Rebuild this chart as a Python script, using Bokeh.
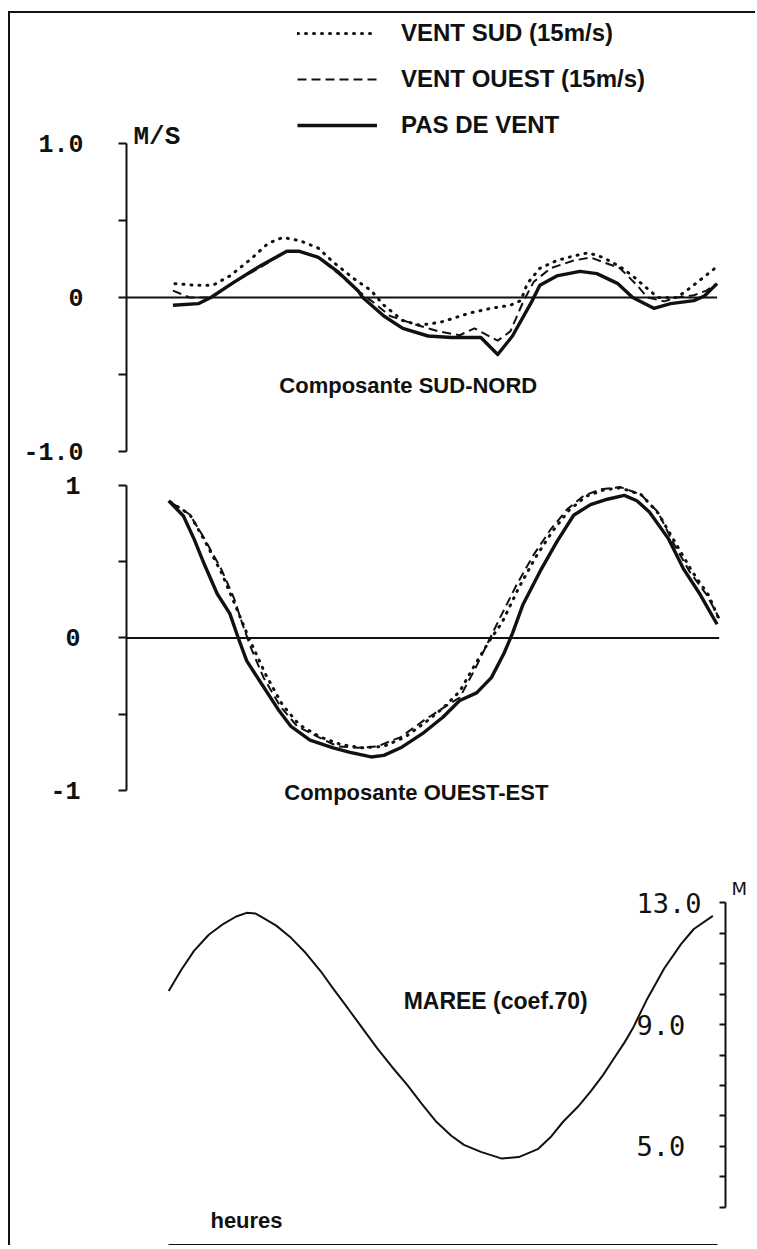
from bokeh.plotting import figure
from bokeh.layouts import column
from bokeh.models import Range1d, LinearAxis, FixedTicker, Legend, LegendItem, Label
from bokeh.embed import file_html
from bokeh.resources import INLINE

# ---------------- data (hours, values) ----------------
# Composante SUD-NORD (m/s)
sn_calm_h = [0.1, 0.7, 1.0, 1.55, 2.2, 2.8, 3.1, 3.55, 4.0, 4.5, 4.6, 5.1, 5.55, 6.15, 6.7,
             7.0, 7.4, 7.8, 8.15, 8.6, 8.8, 9.2, 9.75, 10.15, 10.65, 11.0, 11.5, 11.9, 12.45, 12.7, 13.0]
sn_calm_v = [-0.05, -0.04, 0.0, 0.10, 0.21, 0.30, 0.30, 0.26, 0.17, 0.04, 0.0, -0.12, -0.20, -0.25, -0.26,
             -0.26, -0.26, -0.37, -0.25, -0.03, 0.08, 0.14, 0.17, 0.155, 0.09, 0.0, -0.07, -0.04, -0.02, 0.01, 0.09]

sn_sud_h = [0.15, 0.6, 1.05, 1.45, 1.95, 2.35, 2.7, 3.1, 3.55, 3.9, 4.4, 4.8, 5.1, 5.55, 5.95, 6.45,
            7.15, 7.65, 8.1, 8.35, 8.5, 8.8, 9.2, 9.6, 9.95, 10.3, 10.7, 11.0, 11.25, 11.6, 12.05, 12.35, 12.7, 12.95]
sn_sud_v = [0.09, 0.08, 0.08, 0.14, 0.25, 0.35, 0.39, 0.37, 0.32, 0.23, 0.12, 0.045, -0.05, -0.15, -0.18, -0.16,
            -0.10, -0.07, -0.05, -0.02, 0.09, 0.19, 0.24, 0.27, 0.29, 0.26, 0.20, 0.14, 0.08, 0.0, 0.0, 0.06, 0.135, 0.19]

sn_ouest_h = [0.1, 0.5, 1.0, 1.55, 2.2, 2.8, 3.1, 3.55, 4.0, 4.5, 4.8, 5.25, 5.9, 6.4, 6.9, 7.25, 7.45,
              7.8, 8.1, 8.4, 8.65, 9.05, 9.6, 10.0, 10.3, 10.7, 11.1, 11.35, 11.75, 12.05, 12.45, 12.75, 12.95]
sn_ouest_v = [0.045, 0.0, 0.0, 0.10, 0.20, 0.30, 0.30, 0.26, 0.16, 0.04, -0.02, -0.12, -0.18, -0.22, -0.245, -0.20, -0.23,
              -0.28, -0.22, -0.03, 0.10, 0.19, 0.24, 0.26, 0.23, 0.19, 0.08, 0.0, -0.025, 0.0, 0.015, 0.045, 0.085]

# Composante OUEST-EST (m/s)
oe_calm_h = [0.0, 0.35, 0.6, 0.85, 1.15, 1.45, 1.65, 1.85, 2.2, 2.6, 2.9, 3.35, 3.9, 4.3, 4.8, 5.1, 5.5,
             6.05, 6.5, 6.9, 7.3, 7.65, 7.95, 8.15, 8.4, 8.8, 9.2, 9.6, 10.0, 10.4, 10.8, 11.1, 11.4,
             11.85, 12.2, 12.6, 13.0]
oe_calm_v = [0.90, 0.80, 0.65, 0.48, 0.29, 0.16, 0.0, -0.15, -0.30, -0.47, -0.58, -0.67, -0.72, -0.75, -0.78, -0.77, -0.72,
             -0.62, -0.52, -0.41, -0.36, -0.26, -0.10, 0.03, 0.22, 0.435, 0.63, 0.805, 0.875, 0.91, 0.935, 0.90, 0.825,
             0.65, 0.455, 0.285, 0.09]

oe_ouest_h = [0.05, 0.5, 0.85, 1.25, 1.55, 1.75, 1.95, 2.25, 2.65, 3.05, 3.55, 4.0, 4.5, 4.95, 5.5, 6.05, 6.5,
              6.9, 7.25, 7.55, 7.85, 8.25, 8.65, 9.05, 9.45, 9.85, 10.25, 10.7, 11.2, 11.6, 11.95, 12.35, 12.75, 13.05]
oe_ouest_v = [0.89, 0.81, 0.65, 0.45, 0.26, 0.09, -0.065, -0.26, -0.45, -0.58, -0.65, -0.71, -0.72, -0.71, -0.65, -0.54, -0.46,
              -0.39, -0.21, -0.04, 0.13, 0.35, 0.545, 0.71, 0.845, 0.935, 0.975, 0.99, 0.94, 0.825, 0.63, 0.435, 0.285, 0.13]

oe_sud_h = [0.05, 0.5, 0.85, 1.25, 1.6, 1.9, 2.3, 2.7, 3.1, 3.6, 4.1, 4.6, 5.1, 5.6, 6.1, 6.5,
            6.9, 7.25, 7.6, 7.9, 8.3, 8.7, 9.1, 9.5, 9.9, 10.3, 10.7, 11.2, 11.6, 12.0, 12.4, 12.8, 13.05]
oe_sud_v = [0.89, 0.81, 0.64, 0.43, 0.20, 0.0, -0.24, -0.44, -0.57, -0.65, -0.70, -0.72, -0.71, -0.65, -0.55, -0.46,
            -0.35, -0.18, -0.02, 0.10, 0.33, 0.53, 0.70, 0.84, 0.93, 0.97, 0.985, 0.94, 0.82, 0.63, 0.44, 0.28, 0.12]

# MAREE (coef.70), metres
tide_h = [0.0, 0.3, 0.6, 0.95, 1.3, 1.6, 1.85, 2.05, 2.25, 2.55, 2.9, 3.25, 3.6, 3.9, 4.25, 4.6, 4.95, 5.3,
          5.65, 6.0, 6.35, 6.7, 7.0, 7.4, 7.9, 8.3, 8.75, 9.05, 9.35, 9.7, 10.0, 10.3, 10.55, 10.8, 11.0,
          11.35, 11.75, 12.15, 12.45, 12.9]
tide_m = [10.1, 10.8, 11.42, 11.95, 12.31, 12.55, 12.67, 12.65, 12.5, 12.25, 11.85, 11.35, 10.76, 10.18, 9.53,
          8.87, 8.21, 7.6, 7.03, 6.4, 5.8, 5.35, 5.05, 4.82, 4.6, 4.65, 4.91, 5.3, 5.81, 6.3, 6.8, 7.35, 7.88,
          8.4, 8.87, 9.86, 10.85, 11.65, 12.14, 12.57]

legend_labels = ["VENT SUD (15m/s)", "VENT OUEST (15m/s)", "PAS DE VENT"]
sn_ticks = [-1, 0, 1]
sn_minor = [-0.5, 0.5]
sn_tick_labels = {1: "1.0", 0: "0", -1: "-1.0"}
oe_tick_labels = {1: "1", 0: "0", -1: "-1"}
tide_ticks = [5, 9, 13]
tide_minor = [3, 4, 6, 7, 8, 10, 11, 12]
tide_tick_labels = {13: "13.0", 9: "9.0", 5: "5.0"}
tide_unit_pos = [13.46]
tide_unit = {13.46: "M"}

# ---------------- layout helpers ----------------
X_START, X_END = -1.0, 13.2
W = 745
ML, MR = 116, 30
INK = "#111111"
SANS = "Liberation Sans"


def base(h, y0, y1):
    p = figure(width=W, height=h, x_range=Range1d(X_START, X_END), y_range=Range1d(y0, y1),
               output_backend="svg", toolbar_location=None, x_axis_location=None, y_axis_location=None,
               min_border_left=ML, min_border_right=MR, min_border_top=0, min_border_bottom=0)
    p.grid.visible = False
    p.outline_line_color = None
    p.background_fill_color = "white"
    p.border_fill_color = "white"
    return p


def left_axis(labels, standoff):
    return LinearAxis(bounds=(-1, 1), ticker=FixedTicker(ticks=sn_ticks, minor_ticks=sn_minor),
                      major_label_overrides=labels,
                      axis_line_width=2, axis_line_color=INK,
                      major_tick_line_width=2, minor_tick_line_width=2,
                      major_tick_line_color=INK, minor_tick_line_color=INK,
                      major_tick_out=8, major_tick_in=0, minor_tick_out=8, minor_tick_in=0,
                      major_label_standoff=standoff, major_label_text_font="Liberation Mono",
                      major_label_text_font_style="bold", major_label_text_font_size="25px",
                      major_label_text_color=INK)


def label(p, x, y, text, size="22px", align="left", font=SANS, style="bold"):
    p.add_layout(Label(x=x, y=y, text=text, text_align=align, text_baseline="middle",
                       text_font=font, text_font_style=style, text_font_size=size, text_color=INK))


DOT = dict(line_dash="1 7", line_width=3, line_cap="round", line_color=INK)
DASH = dict(line_dash="9 5", line_width=2, line_color=INK)
SOLID = dict(line_width=3.4, line_color=INK, line_join="round")

# ---------------- panel 1 : SUD-NORD ----------------
p1 = base(455, -1.1104, 1.8442)
p1.add_layout(left_axis(sn_tick_labels, 35), "left")
p1.line([X_START, sn_calm_h[-1]], [0, 0], line_width=2, line_color=INK)
r_s = p1.line(sn_sud_h, sn_sud_v, **DOT)
r_o = p1.line(sn_ouest_h, sn_ouest_v, **DASH)
r_c = p1.line(sn_calm_h, sn_calm_v, **SOLID)
leg = Legend(items=[LegendItem(label=legend_labels[0], renderers=[r_s]),
                    LegendItem(label=legend_labels[1], renderers=[r_o]),
                    LegendItem(label=legend_labels[2], renderers=[r_c])],
             location=(171, 329), glyph_width=80, glyph_height=28, label_height=28, spacing=18,
             label_standoff=24, padding=0, margin=0, border_line_color=None, background_fill_alpha=0,
             label_text_font=SANS, label_text_font_style="bold", label_text_font_size="24px",
             label_text_color=INK)
p1.add_layout(leg)
label(p1, -0.835, 1.04, "M/S", size="26px", font="Liberation Mono")
label(p1, 5.68, -0.57, "Composante SUD-NORD", align="center")

# ---------------- panel 2 : OUEST-EST ----------------
p2 = base(372, -1.3279, 1.1115)
p2.add_layout(left_axis(oe_tick_labels, 38), "left")
p2.line([X_START, oe_ouest_h[-1]], [0, 0], line_width=2, line_color=INK)
p2.line(oe_sud_h, oe_sud_v, **DOT)
p2.line(oe_ouest_h, oe_ouest_v, **DASH)
p2.line(oe_calm_h, oe_calm_v, **SOLID)
label(p2, 5.87, -1.01, "Composante OUEST-EST", align="center")

# ---------------- panel 3 : MAREE ----------------
p3 = base(405, 1.746, 15.046)
rax = LinearAxis(bounds=(3, 13), ticker=FixedTicker(ticks=tide_ticks, minor_ticks=tide_minor),
                 major_label_overrides=tide_tick_labels,
                 axis_line_width=2, axis_line_color=INK,
                 major_tick_line_width=2, minor_tick_line_width=2,
                 major_tick_line_color=INK, minor_tick_line_color=INK,
                 major_tick_in=6, major_tick_out=0, minor_tick_in=6, minor_tick_out=0,
                 major_label_standoff=-89, major_label_text_font="DejaVu Sans Mono",
                 major_label_text_font_size="27px", major_label_text_color=INK)
p3.add_layout(rax, "right")
uax = LinearAxis(ticker=FixedTicker(ticks=tide_unit_pos), major_label_overrides=tide_unit,
                 axis_line_color=None, major_tick_line_color=None, minor_tick_line_color=None,
                 major_tick_in=0, major_tick_out=0, minor_tick_in=0, minor_tick_out=0,
                 major_label_standoff=6, major_label_text_font="DejaVu Sans",
                 major_label_text_font_size="18px", major_label_text_color=INK)
p3.add_layout(uax, "right")
bax = LinearAxis(bounds=(0, 13), ticker=FixedTicker(ticks=[]), major_tick_in=0, major_tick_out=0,
                 minor_tick_in=0, minor_tick_out=0, major_label_text_font_size="0px",
                 axis_line_width=3, axis_line_color=INK)
p3.add_layout(bax, "below")
p3.line(tide_h, tide_m, line_width=2, line_color=INK)
label(p3, 5.57, 9.77, "MAREE (coef.70)", size="23px")
label(p3, 0.99, 2.57, "heures")

page = column(p1, p2, p3, styles={"border-left": "2px solid #111", "border-top": "2px solid #111",
                                  "margin-top": "11px", "margin-left": "8px"})

with open("out.html", "w") as f:
    f.write(file_html(page, INLINE))
